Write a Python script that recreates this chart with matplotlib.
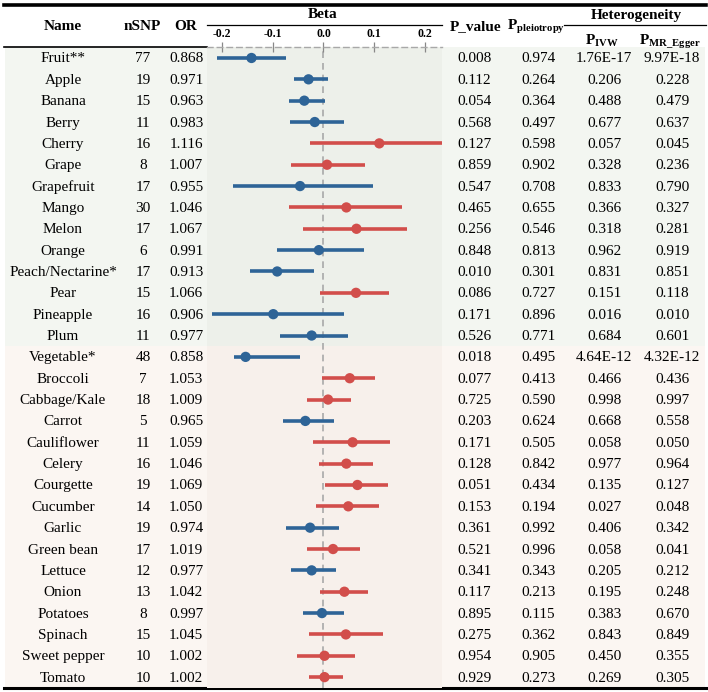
import numpy as np
import matplotlib
matplotlib.use("Agg")
import matplotlib.pyplot as plt

plt.rcParams['font.family'] = ['Liberation Serif', 'DejaVu Serif']
plt.rcParams['mathtext.fontset'] = 'custom'
plt.rcParams['mathtext.rm'] = 'Liberation Serif'
plt.rcParams['mathtext.bf'] = 'Liberation Serif:bold'
plt.rcParams['mathtext.it'] = 'Liberation Serif:italic'

# data
names = ["Fruit**", "Apple", "Banana", "Berry", "Cherry", "Grape", "Grapefruit", "Mango",
         "Melon", "Orange", "Peach/Nectarine*", "Pear", "Pineapple", "Plum",
         "Vegetable*", "Broccoli", "Cabbage/Kale", "Carrot", "Cauliflower", "Celery",
         "Courgette", "Cucumber", "Garlic", "Green bean", "Lettuce", "Onion", "Potatoes",
         "Spinach", "Sweet pepper", "Tomato"]
nsnp = [77, 19, 15, 11, 16, 8, 17, 30, 17, 6, 17, 15, 16, 11,
        48, 7, 18, 5, 11, 16, 19, 14, 19, 17, 12, 13, 8, 15, 10, 10]
odds_ratio = [0.868, 0.971, 0.963, 0.983, 1.116, 1.007, 0.955, 1.046, 1.067, 0.991, 0.913,
              1.066, 0.906, 0.977, 0.858, 1.053, 1.009, 0.965, 1.059, 1.046, 1.069, 1.050,
              0.974, 1.019, 0.977, 1.042, 0.997, 1.045, 1.002, 1.002]
ci_low = [-0.210, -0.057, -0.067, -0.065, -0.026, -0.063, -0.178, -0.067, -0.040, -0.091,
          -0.145, -0.006, -0.219, -0.086, -0.176, -0.002, -0.033, -0.079, -0.020, -0.009,
          0.003, -0.014, -0.074, -0.032, -0.063, -0.006, -0.040, -0.029, -0.052, -0.029]
ci_high = [-0.074, 0.009, 0.003, 0.040, 0.260, 0.082, 0.098, 0.154, 0.165, 0.080,
           -0.018, 0.128, 0.041, 0.048, -0.046, 0.102, 0.054, 0.020, 0.131, 0.098,
           0.126, 0.109, 0.030, 0.072, 0.025, 0.087, 0.040, 0.117, 0.061, 0.038]
p_value = ["0.008", "0.112", "0.054", "0.568", "0.127", "0.859", "0.547", "0.465", "0.256",
           "0.848", "0.010", "0.086", "0.171", "0.526", "0.018", "0.077", "0.725", "0.203",
           "0.171", "0.128", "0.051", "0.153", "0.361", "0.521", "0.341", "0.117", "0.895",
           "0.275", "0.954", "0.929"]
p_pleio = ["0.974", "0.264", "0.364", "0.497", "0.598", "0.902", "0.708", "0.655", "0.546",
           "0.813", "0.301", "0.727", "0.896", "0.771", "0.495", "0.413", "0.590", "0.624",
           "0.505", "0.842", "0.434", "0.194", "0.992", "0.996", "0.343", "0.213", "0.115",
           "0.362", "0.905", "0.273"]
p_ivw = ["1.76E-17", "0.206", "0.488", "0.677", "0.057", "0.328", "0.833", "0.366", "0.318",
         "0.962", "0.831", "0.151", "0.016", "0.684", "4.64E-12", "0.466", "0.998", "0.668",
         "0.058", "0.977", "0.135", "0.027", "0.406", "0.058", "0.205", "0.195", "0.383",
         "0.843", "0.450", "0.269"]
p_egger = ["9.97E-18", "0.228", "0.479", "0.637", "0.045", "0.236", "0.790", "0.327", "0.281",
           "0.919", "0.851", "0.118", "0.010", "0.601", "4.32E-12", "0.436", "0.997", "0.558",
           "0.050", "0.964", "0.127", "0.048", "0.342", "0.041", "0.212", "0.248", "0.670",
           "0.849", "0.355", "0.305"]
n_fruit = 14
beta_ticks = [-0.2, -0.1, 0.0, 0.1, 0.2]

beta = np.log(odds_ratio)
n = len(names)

# layout (pixels)
W, H = 708, 692
top, row_h = 47.3, 21.35
bottom = top + n * row_h
fx0, fx1 = 207, 442

blue, red = '#2E6497', '#D24E4B'
fruit_bg, veg_bg = '#F3F6F1', '#FBF6F2'
fruit_bg2, veg_bg2 = '#EDF0EA', '#F7F0EB'

fig = plt.figure(figsize=(W / 100, H / 100), dpi=100)
ax = fig.add_axes([0, 0, 1, 1])
ax.set_xlim(0, W)
ax.set_ylim(H, 0)
ax.axis('off')

# row bands
ax.axhspan(top, top + n_fruit * row_h, xmin=5 / W, xmax=705 / W, color=fruit_bg, lw=0)
ax.axhspan(top + n_fruit * row_h, bottom, xmin=5 / W, xmax=705 / W, color=veg_bg, lw=0)

# rules
ax.plot([4, 706], [5, 5], color='black', lw=2.6)
ax.plot([4, 706], [bottom + 0.5, bottom + 0.5], color='black', lw=2.2)
ax.plot([4, fx0], [top, top], color='black', lw=1.2)
ax.plot([fx0, fx1], [25, 25], color='black', lw=0.9)
ax.plot([564, 706], [25, 25], color='black', lw=0.9)

# headers
hfs = 11
ax.text(63, 27, "Name", ha='center', va='center', fontsize=hfs, fontweight='bold')
ax.text(142, 27, "nSNP", ha='center', va='center', fontsize=hfs, fontweight='bold')
ax.text(186, 27, "OR", ha='center', va='center', fontsize=hfs, fontweight='bold')
ax.text(323, 15, "Beta", ha='center', va='center', fontsize=hfs, fontweight='bold')
ax.text(476, 30, "P_value", ha='center', va='baseline', fontsize=hfs, fontweight='bold')
ax.text(536, 30, r'$\mathbf{P}_{\mathbf{pleiotropy}}$', ha='center', va='baseline', fontsize=hfs)
ax.text(636, 15, "Heterogeneity", ha='center', va='center', fontsize=hfs, fontweight='bold')
ax.text(602, 45, r'$\mathbf{P}_{\mathbf{IVW}}$', ha='center', va='baseline', fontsize=hfs)
ax.text(670, 45, r'$\mathbf{P}_{\mathbf{MR\_Egger}}$', ha='center', va='baseline', fontsize=hfs)

# table body
fs = 11
for i in range(n):
    y = top + (i + 0.5) * row_h + 1
    ax.text(63, y, names[i], ha='center', va='center', fontsize=fs)
    ax.text(143, y, str(nsnp[i]), ha='center', va='center', fontsize=fs)
    ax.text(186, y, f"{odds_ratio[i]:.3f}", ha='center', va='center', fontsize=fs)
    ax.text(474, y, p_value[i], ha='center', va='center', fontsize=fs)
    ax.text(538, y, p_pleio[i], ha='center', va='center', fontsize=fs)
    ax.text(604, y, p_ivw[i], ha='center', va='center', fontsize=fs)
    ax.text(672, y, p_egger[i], ha='center', va='center', fontsize=fs)

# forest plot
fax = fig.add_axes([fx0 / W, 1 - bottom / H, (fx1 - fx0) / W, (bottom - top) / H])
fax.set_xlim(-0.229, 0.233)
fax.set_ylim(n - 0.5, -0.5)
fax.axhspan(-0.5, n_fruit - 0.5, color=fruit_bg2, lw=0)
fax.axhspan(n_fruit - 0.5, n - 0.5, color=veg_bg2, lw=0)
fax.axvline(0, color='#A8A8A8', lw=1.2, ls=(0, (4, 3)), zorder=1)
rows = np.arange(n)
cols = [blue if o < 1 else red for o in odds_ratio]
fax.hlines(rows, ci_low, ci_high, colors=cols, lw=2.6, zorder=2)
fax.scatter(beta, rows, c=cols, s=55, zorder=3, edgecolors='none')

for s in ['left', 'right', 'bottom']:
    fax.spines[s].set_visible(False)
fax.spines['top'].set_color('#A8A8A8')
fax.spines['top'].set_linestyle((0, (4, 3)))
fax.spines['top'].set_linewidth(1.0)
fax.set_yticks([])
fax.xaxis.tick_top()
fax.set_xticks(beta_ticks)
fax.set_xticklabels([f"{t:.1f}" for t in beta_ticks], fontsize=8.5, fontweight='bold')
fax.tick_params(axis='x', direction='inout', length=7, width=0.9, color='#888888', pad=2)

fig.savefig("out.png", dpi=100)
